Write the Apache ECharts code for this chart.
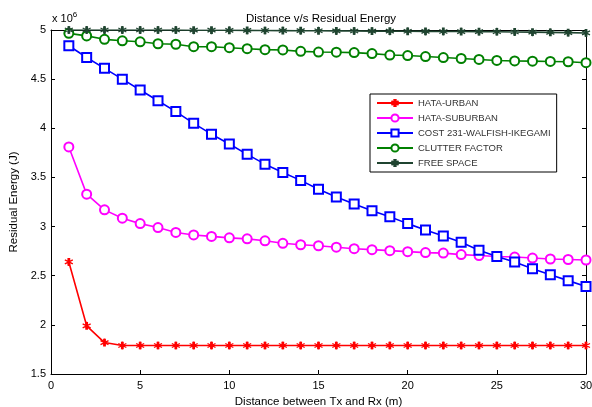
<!DOCTYPE html>
<html><head><meta charset="utf-8">
<script src="https://cdn.jsdelivr.net/npm/echarts@6/dist/echarts.min.js"></script>
<style>html,body{margin:0;padding:0;background:#fff}#c{width:592px;height:407px}</style>
</head><body><div id="c"></div>
<script>
// distances (m)
var distances = [1,2,3,4,5,6,7,8,9,10,11,12,13,14,15,16,17,18,19,20,21,22,23,24,25,26,27,28,29,30];
// residual energy in units of 1e6 J
var hataUrban = [2.64,1.99,1.82,1.79,1.79,1.79,1.79,1.79,1.79,1.79,1.79,1.79,1.79,1.79,1.79,1.79,1.79,1.79,1.79,1.79,1.79,1.79,1.79,1.79,1.79,1.79,1.79,1.79,1.79,1.79];
var hataSuburban = [3.81,3.33,3.17,3.085,3.03,2.99,2.94,2.915,2.90,2.885,2.875,2.855,2.83,2.815,2.805,2.79,2.775,2.765,2.755,2.745,2.735,2.73,2.715,2.705,2.695,2.69,2.68,2.67,2.665,2.66];
var cost231 = [4.84,4.72,4.61,4.50,4.39,4.28,4.17,4.05,3.94,3.84,3.735,3.635,3.55,3.47,3.38,3.30,3.23,3.16,3.10,3.03,2.965,2.905,2.84,2.76,2.695,2.64,2.57,2.51,2.45,2.39];
var clutter = [4.966,4.94,4.905,4.89,4.88,4.86,4.855,4.83,4.83,4.82,4.81,4.80,4.797,4.783,4.776,4.774,4.77,4.76,4.745,4.74,4.73,4.72,4.71,4.70,4.69,4.685,4.683,4.68,4.677,4.667];
var freeSpace = [5.0,5.0,5.0,5.0,5.0,5.0,5.0,4.998,4.998,4.997,4.996,4.995,4.994,4.993,4.992,4.991,4.99,4.989,4.988,4.987,4.986,4.985,4.984,4.983,4.982,4.98,4.978,4.976,4.973,4.97];
var seriesNames = ['HATA-URBAN','HATA-SUBURBAN','COST 231-WALFISH-IKEGAMI','CLUTTER FACTOR','FREE SPACE'];
var seriesColors = ['#ff0000','#ff00ff','#0000ff','#008000','#1f4430'];
var xTicks = [0,5,10,15,20,25,30];
var yTicks = [1.5,2,2.5,3,3.5,4,4.5,5];

var star = 'path://M0,-5L0,5M-4.3,-2.5L4.3,2.5M-4.3,2.5L4.3,-2.5M-0.8,-4L0.8,-4L0.8,4L-0.8,4Z';
var allData = [hataUrban, hataSuburban, cost231, clutter, freeSpace];
var symbols = [star, 'emptyCircle', 'emptyRect', 'emptyCircle', star];
var sizes = [8, 9, 9, 9, 8];

function pairs(arr){ return distances.map(function(d,i){ return [d, arr[i]]; }); }

var FONT = 'Liberation Sans, Arial, sans-serif';
var chart = echarts.init(document.getElementById('c'), null, {renderer:'canvas'});
var series = allData.map(function(arr, k){
  return {
    name: seriesNames[k], type: 'line', data: pairs(arr),
    symbol: symbols[k], symbolSize: sizes[k], showSymbol: true,
    lineStyle: {color: seriesColors[k], width: 1.6},
    itemStyle: {color: seriesColors[k], borderColor: seriesColors[k], borderWidth: (k===0||k===4) ? 1.3 : 1.5},
    emphasis: {disabled: true}, animation: false, z: 2 + k
  };
});

var axisCommon = {
  axisLine: {show: true, onZero: false, lineStyle: {color: '#000', width: 1}},
  axisTick: {inside: true, length: 4, lineStyle: {color: '#000'}},
  splitLine: {show: false}
};

chart.setOption({
  animation: false,
  title: {
    text: 'Distance v/s Residual Energy', left: 316, textAlign: 'center', top: 8,
    textStyle: {fontFamily: FONT, fontSize: 11.5, fontWeight: 'normal', color: '#000'}
  },
  graphic: [{
    type: 'text', left: 52, top: 11,
    style: {
      text: '{a|x 10}{b|6}',
      rich: {
        a: {fontFamily: FONT, fontSize: 11, fill: '#000'},
        b: {fontFamily: FONT, fontSize: 8, fill: '#000', verticalAlign: 'top', padding:[0,0,8,0]}
      }
    }
  }],
  legend: {
    orient: 'vertical', left: 370, top: 94,
    itemWidth: 36, itemHeight: 9, itemGap: 5,
    padding: [4, 6, 4, 6],
    backgroundColor: '#fff', borderColor: '#000', borderWidth: 1,
    textStyle: {fontFamily: FONT, fontSize: 9.5, color: '#333', fontWeight: 'normal'},
    data: seriesNames
  },
  grid: {left: 51, right: 6, top: 30, bottom: 33, show: false, containLabel: false, outerBoundsMode: 'none'},
  xAxis: [Object.assign({
    type: 'value', min: 0, max: 30, interval: 5, position: 'bottom',
    name: 'Distance between Tx and Rx (m)', nameLocation: 'middle', nameGap: 21,
    nameTextStyle: {fontFamily: FONT, fontSize: 11.5, color: '#000'},
    axisLabel: {fontFamily: FONT, fontSize: 11, color: '#000', margin: 6,
      formatter: function(v){ return xTicks.indexOf(v) >= 0 ? String(v) : ''; }}
  }, axisCommon), Object.assign({
    type: 'value', min: 0, max: 30, interval: 5, position: 'top',
    axisLabel: {show: false}
  }, axisCommon)],
  yAxis: [Object.assign({
    type: 'value', min: 1.5, max: 5, interval: 0.5, position: 'left',
    name: 'Residual Energy (J)', nameLocation: 'middle', nameGap: 24,
    nameTextStyle: {fontFamily: FONT, fontSize: 11.5, color: '#000'},
    axisLabel: {fontFamily: FONT, fontSize: 11, color: '#000', margin: 5,
      formatter: function(v){ return yTicks.indexOf(v) >= 0 ? String(v) : ''; }}
  }, axisCommon), Object.assign({
    type: 'value', min: 1.5, max: 5, interval: 0.5, position: 'right',
    axisLabel: {show: false}
  }, axisCommon)],
  series: series
});
</script></body></html>
